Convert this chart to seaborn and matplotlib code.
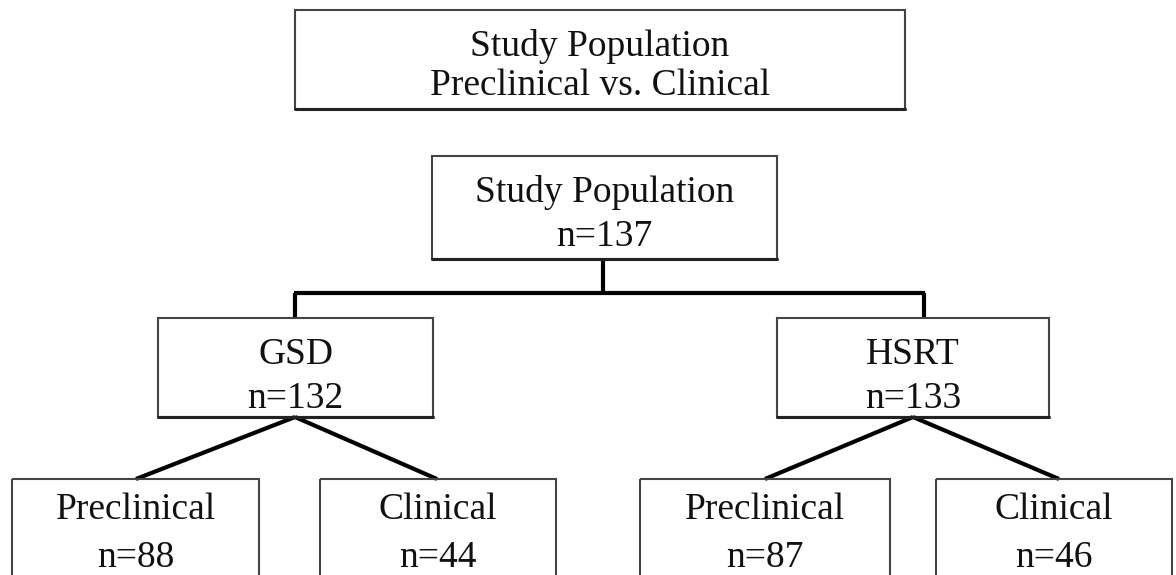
import matplotlib.pyplot as plt
import seaborn as sns
from matplotlib.patches import Rectangle

sns.set_style("white")
plt.rcParams['font.family'] = ['Liberation Serif', 'DejaVu Serif']

# flowchart content
title_lines = ["Study Population", "Preclinical vs. Clinical"]
root_label = "Study Population"
root_n = 137
group_labels = ["GSD", "HSRT"]
group_n = [132, 133]
sub_labels = ["Preclinical", "Clinical", "Preclinical", "Clinical"]
sub_n = [88, 44, 87, 46]

# layout in pixel coordinates (x0, y0, x1, y1), y grows downward
title_box = (295, 10, 905, 109)
root_box = (432, 156, 777, 259)
group_boxes = [(158, 318, 433, 417), (777, 318, 1049, 417)]
sub_boxes = [(12, 479, 259, 620), (320, 479, 556, 620),
             (640, 479, 890, 620), (936, 479, 1172, 620)]
bus_y = 293
root_x = 603
drop_x = [295, 924]

fig = plt.figure(figsize=(11.76, 5.75), dpi=100)
ax = fig.add_axes([0, 0, 1, 1])
ax.set_xlim(0, 1176)
ax.set_ylim(575, 0)
ax.axis("off")


def box(b, lines, dy, fs=27):
    x0, y0, x1, y1 = b
    ax.add_patch(Rectangle((x0, y0), x1 - x0, y1 - y0, fill=False,
                           edgecolor="#444444", lw=1.5, zorder=2))
    # darker lower edge, like a slight shadow
    ax.plot([x0, x1], [y1, y1], color="#222222", lw=2.2, zorder=2)
    cx = (x0 + x1) / 2
    for t, y in zip(lines, dy):
        ax.text(cx, y, t, ha="center", va="baseline", fontsize=fs,
                color="#111111", zorder=3)


box(title_box, title_lines, dy=[56, 95])
box(root_box, [root_label, f"n={root_n}"], dy=[202, 246])
for b, lab, n in zip(group_boxes, group_labels, group_n):
    box(b, [lab, f"n={n}"], dy=[364, 408])
for b, lab, n in zip(sub_boxes, sub_labels, sub_n):
    box(b, [lab, f"n={n}"], dy=[519, 567])

lk = dict(color="black", lw=3, solid_capstyle="butt", zorder=1)
# root to bus
ax.plot([root_x, root_x], [root_box[3], bus_y], **lk)
ax.plot([drop_x[0] - 1, drop_x[1] + 1], [bus_y, bus_y], **lk)
for gx, gb in zip(drop_x, group_boxes):
    ax.plot([gx, gx], [bus_y, gb[1]], **lk)

# diagonals from group boxes to subgroup boxes
apex_x = [295, 913]
targets = [[136, 437], [765, 1059]]
for a_x, gb, tg in zip(apex_x, group_boxes, targets):
    for tx in tg:
        ax.plot([a_x, tx], [gb[3], 479], **lk)

fig.savefig("out.png", dpi=100, facecolor="white")
